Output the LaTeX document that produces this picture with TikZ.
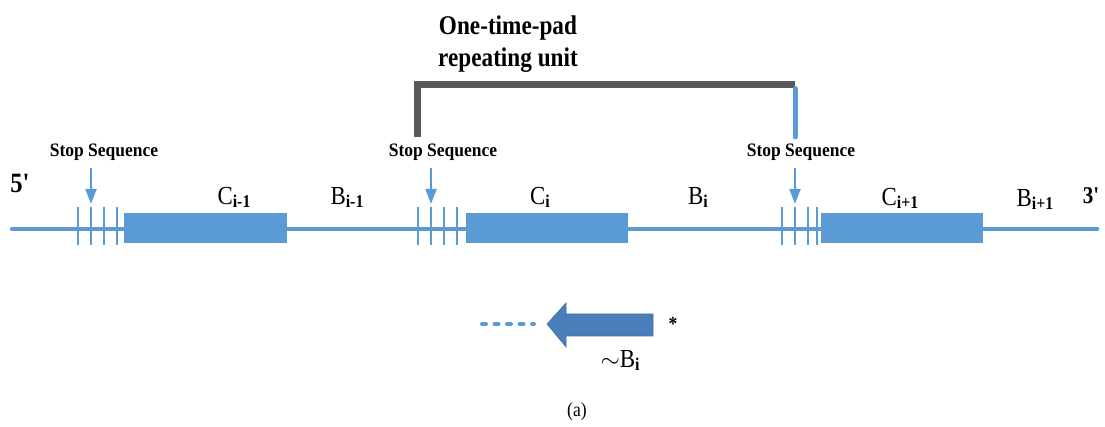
\documentclass[tikz,border=0pt]{standalone}
\usepackage{fontspec}
\setmainfont{Liberation Serif}
\newfontfamily\lblfont[FakeStretch=0.88]{Liberation Serif}
\newfontfamily\stopfont[FakeStretch=0.92]{Liberation Serif}
\newfontfamily\titlefont[FakeStretch=0.86]{Liberation Serif}
\usetikzlibrary{arrows.meta}

\definecolor{strand}{HTML}{5B9BD5}
\definecolor{revblue}{HTML}{4A7EBB}
\definecolor{revedge}{HTML}{41719C}
\definecolor{bracketgray}{HTML}{595959}

% subscripted gene label: big regular letter, small bold index
\newcommand{\genelbl}[2]{#1\raisebox{-3pt}{\fontsize{18}{18}\selectfont\bfseries #2}}

\tikzset{
  strandline/.style={draw=strand, line width=4.5pt, line cap=round},
  tick/.style={draw=strand, line width=2pt},
  codon/.style={fill=strand, draw=none},
  stoplbl/.style={font=\stopfont\bfseries\fontsize{19}{21}\selectfont, inner sep=0pt},
  genetxt/.style={font=\lblfont\fontsize{26}{28}\selectfont, inner sep=0pt, anchor=base},
  endlbl/.style={font=\lblfont\bfseries, inner sep=0pt},
  stoparrow/.style={draw=strand, line width=2pt, -{Triangle[width=11pt,length=15pt]}},
}

\begin{document}
\begin{tikzpicture}[x=1pt,y=-1pt]
\useasboundingbox (0,0) rectangle (1105,427);

% main strand
\coordinate (s5) at (12,229);
\coordinate (s3) at (1097,229);
\draw[strandline] (s5) -- (s3);

% three repeated units: stop ticks + coding block
\foreach \u/\a/\b/\c/\d/\bx/\ex in {
  L/78/91/104/117/124/287,
  M/418/431/444/457/466/628,
  R/782/795/808/817/821/983} {
  \foreach \t in {\a,\b,\c,\d}
    \draw[tick] (\t,207) -- (\t,245);
  \node[codon, minimum width=\ex-\bx, minimum height=30, inner sep=0pt, anchor=north west]
    (box\u) at (\bx,213) {};
}

% stop sequence labels and arrows
\node[stoplbl] (stopL) at (104,152) {Stop Sequence};
\node[stoplbl] (stopM) at (443,152) {Stop Sequence};
\node[stoplbl] (stopR) at (801,152) {Stop Sequence};
\coordinate (aL0) at (91,168);  \coordinate (aL1) at (91,204);
\coordinate (aM0) at (431,168); \coordinate (aM1) at (431,204);
\coordinate (aR0) at (795,168); \coordinate (aR1) at (795,204);
\draw[stoparrow] (aL0) -- (aL1);
\draw[stoparrow] (aM0) -- (aM1);
\draw[stoparrow] (aR0) -- (aR1);

% strand ends
\node[endlbl, font=\lblfont\bfseries\fontsize{28}{30}\selectfont] (p5) at (20,183) {5'};
\node[endlbl, font=\lblfont\bfseries\fontsize{24}{26}\selectfont] (p3) at (1091,196) {3'};

% gene labels
\node[genetxt] (cL) at (234,205) {\genelbl{C}{i-1}};
\node[genetxt] (bL) at (347,205) {\genelbl{B}{i-1}};
\node[genetxt] (cM) at (540,205) {\genelbl{C}{i}};
\node[genetxt] (bM) at (698,205) {\genelbl{B}{i}};
\node[genetxt] (cR) at (900,206) {\genelbl{C}{i+1}};
\node[genetxt] (bR) at (1035,207) {\genelbl{B}{i+1}};

% repeating unit bracket
\coordinate (brL) at (417,137);
\coordinate (brTL) at (417,85);
\coordinate (brTR) at (795,85);
\coordinate (brR) at (795,137);
\draw[draw=bracketgray, line width=7pt] (brL) -- (brTL) -- (brTR);
\draw[draw=strand, line width=5pt, line cap=round] ([yshift=-3.5pt]brTR) -- (brR);
\node[font=\titlefont\bfseries\fontsize{27}{32}\selectfont, align=center, inner sep=0pt]
  (title) at (508,44) {One-time-pad\\repeating unit};

% reverse complement arrow
\coordinate (dotA) at (482,324);
\coordinate (dotB) at (534,324);
\draw[draw=strand, line width=4pt, line cap=round, dash pattern=on 4pt off 8.5pt] (dotA) -- (dotB);
\path[fill=revblue, draw=revedge, line width=0.6pt]
  (547,324) -- (566,303) -- (566,314) -- (653,314) -- (653,336) -- (566,336) -- (566,347) -- cycle;
\node[font=\lblfont\bfseries\fontsize{20}{20}\selectfont, inner sep=0pt] (star) at (673,324) {*};
\node[genetxt] (bRev) at (620,367) {$\sim$\genelbl{B}{i}};
\node[font=\lblfont\fontsize{20}{22}\selectfont, inner sep=0pt] (cap) at (577,412) {(a)};
\end{tikzpicture}
\end{document}
